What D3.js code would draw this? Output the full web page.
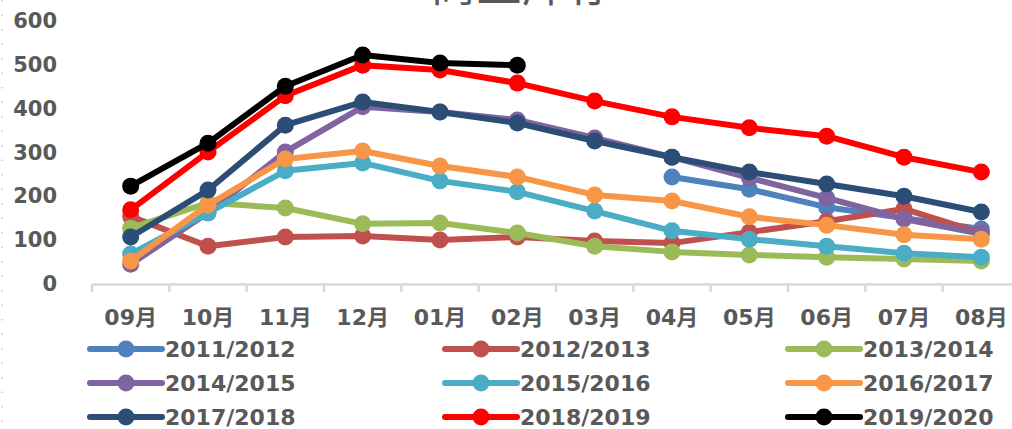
<!DOCTYPE html>
<html><head><meta charset="utf-8">
<script src="https://cdn.jsdelivr.net/npm/d3@7"></script>
<style>body{margin:0;background:#fff;overflow:hidden}</style>
</head><body>
<svg id="c" width="1012" height="429"></svg>
<script>
const months = ["09月","10月","11月","12月","01月","02月","03月","04月","05月","06月","07月","08月"];
const seriesNames = ["2011/2012","2012/2013","2013/2014","2014/2015","2015/2016","2016/2017","2017/2018","2018/2019","2019/2020"];
const seriesColors = ["#4F81BD","#C0504D","#9BBB59","#8064A2","#4BACC6","#F79646","#2C4D75","#FF0000","#000000"];
const s2011 = [null,null,null,null,null,null,null,242,214,173,148,123];
const s2012 = [152,84,105,107,98,105,96,91,116,141,169,114];
const s2013 = [125,183,171,135,137,114,84,71,64,59,55,50];
const s2014 = [43,160,299,402,390,372,331,287,240,194,146,112];
const s2015 = [66,160,256,274,233,208,164,119,100,84,68,59];
const s2016 = [50,178,283,301,267,242,201,187,151,132,110,100];
const s2017 = [105,212,360,413,390,365,324,287,253,226,198,162];
const s2018 = [167,299,427,497,486,456,415,379,354,335,287,253];
const s2019 = [221,319,449,520,502,497,null,null,null,null,null,null];
const seriesValues = [s2011,s2012,s2013,s2014,s2015,s2016,s2017,s2018,s2019];
const yTicks = [0,100,200,300,400,500,600];
const title = "商业库存";

const svg = d3.select("#c");
const x = d3.scaleBand().domain(months).range([92,1020]);
const y = d3.scaleLinear().domain([0,600]).range([283,20]);
const labelColor = "#595959";
const font = "'DejaVu Sans','Noto Sans CJK SC',sans-serif";

// left dotted border
svg.append("line").attr("x1",2).attr("x2",2).attr("y1",0).attr("y2",429)
  .attr("stroke","#c8c8c8").attr("stroke-width",1.5).attr("stroke-dasharray","1.5,13");

// title (clipped at top)
svg.append("text").attr("x",522).attr("y",1).attr("text-anchor","middle")
  .attr("font-family","'Noto Sans CJK SC',sans-serif").attr("font-size",46).attr("fill",labelColor)
  .text(title);

// y axis labels
const yAxis = d3.axisLeft(y).tickValues(yTicks).tickSize(0).tickPadding(0);
const gy = svg.append("g").attr("transform","translate(57,0)").call(yAxis);
gy.select(".domain").remove();
gy.selectAll("text").attr("font-family",font).attr("font-weight","bold")
  .attr("font-size",21).attr("fill",labelColor).attr("dy","0.36em");

// x axis
const xAxis = d3.axisBottom(x).tickSize(0).tickPadding(0);
const gx = svg.append("g").attr("transform","translate(0,284)").call(xAxis);
gx.select(".domain").attr("stroke","#d9d9d9").attr("stroke-width",2.5);
gx.selectAll("text").attr("font-family",font).attr("font-weight","bold")
  .attr("font-size",22).attr("fill",labelColor).attr("dy","1.85em");
// boundary ticks
const bounds = months.map(m => x(m)).concat([x(months[months.length-1]) + x.bandwidth()]);
gx.selectAll("line.b").data(bounds).enter().append("line").attr("class","b")
  .attr("x1",d=>d).attr("x2",d=>d).attr("y1",0).attr("y2",8)
  .attr("stroke","#d9d9d9").attr("stroke-width",2.5);

// series
const line = d3.line().defined(d=>d.v!=null).x(d=>x(d.m)+x.bandwidth()/2).y(d=>y(d.v));
seriesValues.forEach((vals,i)=>{
  const data = vals.map((v,j)=>({m:months[j],v}));
  const g = svg.append("g");
  g.append("path").datum(data).attr("d",line).attr("fill","none")
    .attr("stroke",seriesColors[i]).attr("stroke-width",6).attr("stroke-linejoin","round");
  g.selectAll("circle").data(data.filter(d=>d.v!=null)).enter().append("circle")
    .attr("cx",d=>x(d.m)+x.bandwidth()/2).attr("cy",d=>y(d.v)).attr("r",8.5)
    .attr("fill",seriesColors[i]);
});

// legend
const legCols = [90,445,788];
const legRows = [349,383,417];
seriesNames.forEach((n,i)=>{
  const cx = legCols[i%3], cy = legRows[Math.floor(i/3)];
  const g = svg.append("g");
  g.append("line").attr("x1",cx).attr("x2",cx+72).attr("y1",cy).attr("y2",cy)
    .attr("stroke",seriesColors[i]).attr("stroke-width",6).attr("stroke-linecap","round");
  g.append("circle").attr("cx",cx+36).attr("cy",cy).attr("r",8.5).attr("fill",seriesColors[i]);
  g.append("text").attr("x",cx+75).attr("y",cy).attr("dy","0.36em")
    .attr("font-family",font).attr("font-weight","bold").attr("font-size",22)
    .attr("fill",labelColor).text(n);
});
</script>
</body></html>
